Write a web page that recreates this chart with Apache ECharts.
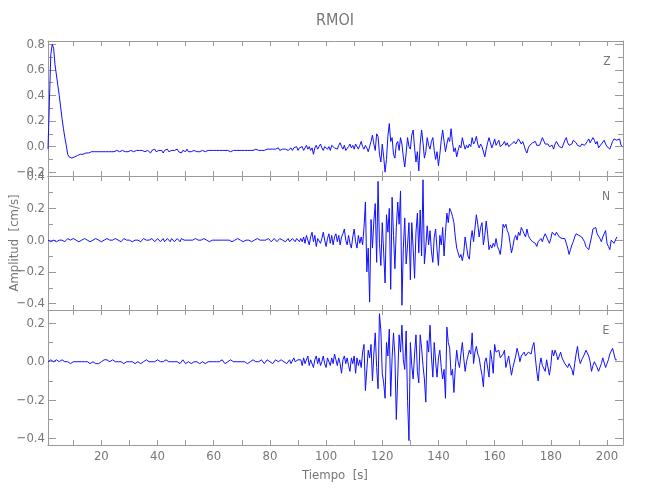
<!DOCTYPE html>
<html><head><meta charset="utf-8">
<script src="https://cdn.jsdelivr.net/npm/echarts@6/dist/echarts.min.js"></script>
<style>html,body{margin:0;padding:0;background:#fff}#c{width:650px;height:500px}</style>
</head><body><div id="c"></div>
<script>
// Sampling grid of the traces (seconds)
const T0 = 1, DT = 0.5;

// Amplitudes, in units of 0.01 cm/s
const Z_x100 = [
-2,35,72,80,77,64,56,48,40,31,22,14,7,1,-6,-8,-9,-9,-9,-8,
-8,-7,-7,-6,-6,-6,-5,-5,-5,-5,-5,-4,-4,-4,-4,-4,-4,-4,-4,-4,
-4,-4,-4,-4,-3,-4,-4,-4,-4,-3,-4,-4,-4,-3,-3,-4,-4,-4,-3,-3,
-3,-4,-4,-3,-3,-3,-4,-3,-3,-4,-4,-3,-4,-5,-3,-4,-2,-4,-5,-3,
-4,-3,-5,-3,-4,-2,-4,-5,-3,-4,-3,-4,-2,-4,-3,-5,-3,-3,-4,-2,
-4,-3,-4,-5,-3,-3,-4,-3,-4,-3,-3,-3,-4,-3,-3,-3,-3,-3,-3,-3,
-3,-3,-3,-4,-3,-3,-3,-3,-3,-3,-4,-3,-3,-3,-3,-3,-3,-4,-3,-3,
-3,-3,-3,-3,-3,-3,-3,-3,-2,-3,-3,-2,-3,-2,-3,-2,-2,-3,-2,-2,
-2,-3,-2,-2,-1,-3,-2,-2,-2,-2,-1,-3,-2,-1,-3,-1,-2,0,-3,-1,
-2,0,-3,-1,1,-2,0,-3,-1,-6,-1,1,-2,0,2,-1,-3,0,1,-2,
0,-3,1,2,-1,0,-2,1,3,0,-2,1,-3,-4,0,2,-1,1,-2,2,
0,-2,1,4,0,-2,1,-1,-4,-5,4,9,2,-3,10,8,-6,-12,2,-8,
-20,-10,8,18,4,7,-6,-9,2,4,-3,7,2,-8,-16,-5,7,0,-2,9,
13,-1,-12,-4,-19,2,13,3,-9,-4,7,1,-2,4,7,-3,-10,-4,-15,-6,
5,13,4,-4,2,7,4,14,3,-4,-1,-8,-3,1,-1,7,2,-2,1,-1,
2,0,7,2,4,8,2,-1,2,0,1,-8,-2,3,7,3,-1,2,6,1,
3,5,0,-1,2,4,1,3,0,-1,2,1,4,2,3,6,7,2,4,1,
-3,-5,-1,1,0,3,2,4,1,0,1,4,7,6,2,3,2,0,-1,1,
-2,2,4,3,0,1,-1,2,5,7,3,1,0,2,5,6,3,1,2,0,
2,3,1,2,4,6,3,5,7,5,2,4,-1,-2,2,3,5,2,0,-1,
-2,1,4,6,7,5,4,6,1,0
];
const N_x100 = [
0,0,-1,-1,0,0,-1,-1,0,1,0,0,-1,0,1,0,0,0,1,0,
0,-1,-1,0,0,1,1,0,0,0,-1,-1,0,1,1,0,0,-1,-1,0,
0,1,1,0,0,-1,0,0,1,0,0,0,-1,0,1,1,0,0,0,-1,
-1,0,0,1,0,0,-1,0,1,0,0,-1,0,0,1,0,-1,0,1,0,
-1,0,1,-1,0,1,0,-1,1,0,-1,0,1,0,-1,1,0,0,-1,0,
1,0,-1,0,0,1,0,0,-1,0,0,1,0,0,0,-1,0,0,1,0,
0,0,-1,0,0,0,1,0,0,0,-1,-1,0,0,1,1,0,0,0,-1,
0,0,1,0,0,-1,0,0,0,1,0,0,-1,0,1,0,0,1,0,-1,
0,1,0,-1,0,1,0,0,1,-1,0,1,-1,0,1,0,-1,1,0,-1,
1,-1,2,-2,3,0,-3,2,5,-1,3,-4,1,2,-2,1,5,0,-4,1,
4,-2,3,-3,2,4,-1,3,-3,2,4,7,0,-3,3,-2,-5,2,7,-1,
-5,3,-2,2,-3,8,24,-20,-5,-39,13,-5,12,23,-14,37,-2,-16,11,-8,
-27,16,5,20,-31,27,3,-18,8,24,10,31,-41,-5,14,-15,-3,11,-25,11,
-5,-24,5,17,-8,19,-10,38,-15,-4,9,-3,6,-7,-14,2,7,-6,-16,3,
-3,8,-10,5,17,11,20,18,15,11,2,-5,-8,-11,-9,-13,-8,2,-4,-10,
-12,0,6,-1,-2,16,10,2,8,11,-3,3,12,4,-6,-3,-5,-2,-4,1,
-4,-6,-9,-2,10,8,10,6,4,-2,-8,-4,1,3,0,5,3,8,6,4,
2,7,3,1,2,-1,0,-2,-4,-1,-2,1,-1,2,4,3,0,-2,1,5,
6,3,5,4,2,3,1,0,1,-2,-5,-9,-6,-3,-1,2,4,5,3,4,
2,1,-1,-4,-3,-6,-5,2,7,6,8,4,3,1,-1,2,4,6,-2,-4,
-6,0,1,-2,0,2
];
const E_x100 = [
0,0,1,1,0,1,1,1,0,1,1,0,0,1,0,0,-1,0,0,0,
0,-1,0,0,0,-1,0,0,0,0,-1,-1,0,0,-1,-1,-1,0,0,0,
1,0,1,1,0,0,1,0,0,-1,0,0,0,-1,-1,0,0,0,0,-1,
0,-1,-1,-1,0,0,-1,-1,0,0,1,0,0,-1,0,1,0,0,1,0,
0,1,0,-1,1,0,0,1,0,-1,0,1,0,0,-1,0,1,0,-1,0,
0,0,-1,0,0,1,0,0,-1,-1,0,0,-1,-1,0,0,0,-1,0,0,
0,1,0,0,1,0,-1,0,0,0,1,1,0,0,0,-1,0,0,0,1,
0,0,-1,0,0,1,1,0,0,-1,0,0,1,0,-1,0,1,1,0,0,
-1,0,1,0,0,-1,1,0,0,1,-1,0,1,-1,0,2,0,-1,1,0,
1,-2,2,-1,0,3,-2,1,2,-3,1,3,-1,2,-2,0,3,-1,-3,2,
1,-2,2,-1,4,1,-2,2,-1,-6,1,3,-1,2,-2,-5,2,-1,3,-6,
2,-2,1,-3,5,9,-15,-4,6,2,9,-10,4,15,-3,-14,25,16,-6,-11,
-19,10,3,17,-18,2,15,3,-30,-8,14,5,19,1,-4,16,-20,-41,10,-2,
-9,4,14,-5,-11,14,7,-2,-9,-21,11,5,19,3,-8,10,0,-8,2,6,
-3,-9,-4,-19,18,10,7,-7,-4,-16,-3,6,0,-3,4,10,2,-5,0,-1,
6,4,15,-1,5,8,4,2,-3,-7,-13,0,2,3,-8,6,1,-6,9,5,
4,6,2,1,4,6,-3,0,3,-2,-7,-3,-2,3,7,4,0,3,2,5,
3,2,5,6,4,8,10,2,-5,-10,-2,2,-2,-3,-5,1,2,-7,-2,6,
3,6,4,1,3,5,2,1,-1,-2,-3,-1,0,-4,-7,-1,4,8,2,-1,
1,2,4,6,7,3,0,-5,-2,0,-1,-3,-5,-6,-1,2,1,-3,-1,1,
4,5,7,4,1,1
];

const X_LABELS = [20,40,60,80,100,120,140,160,180,200];
const X_TICKS = [10,20,30,40,50,60,70,80,90,100,110,120,130,140,150,160,170,180,190,200];
const X_RANGE = [1, 205.7];

const PANEL_NAMES = ['Z','N','E'];
const PANEL_DATA = [Z_x100, N_x100, E_x100];
const Y_RANGES = [[-0.23, 0.826], [-0.44, 0.404], [-0.433, 0.269]];
const Y_MAJOR = [[-0.2,0,0.2,0.4,0.6,0.8],[-0.4,-0.2,0,0.2,0.4],[-0.4,-0.2,0,0.2]];
const Y_MINOR = [[-0.1,0.1,0.3,0.5,0.7],[-0.3,-0.1,0.1,0.3],[-0.3,-0.1,0.1]];

const FONT = "'Liberation Sans Narrow','DejaVu Sans Condensed','Roboto Condensed','Liberation Sans',sans-serif";
const AX = '#9a9a9a', TXT = '#777';
const GRIDS = [{left:48,right:27,top:41,height:135},{left:48,right:27,top:176,height:134},{left:48,right:27,top:310,height:135}];

const xAxis = [], yAxis = [], series = [];
const fmtY = v => (v < -1e-9 ? '\u2212' : '') + Math.abs(v).toFixed(1);
GRIDS.forEach((g, p) => {
  ['bottom','top'].forEach(pos => {
    xAxis.push({
      gridIndex: p, type: 'value', position: pos, min: X_RANGE[0], max: X_RANGE[1],
      axisLine: {show: true, onZero: false, lineStyle: {color: AX, width: 1}},
      axisTick: {show: true, inside: true, length: 5, customValues: X_TICKS, lineStyle: {color: AX}},
      axisLabel: {show: pos === 'bottom' && p === 2, customValues: X_LABELS, color: TXT,
        fontFamily: FONT, fontSize: 13, margin: 5, formatter: v => String(Math.round(v))},
      splitLine: {show: false}
    });
  });
  ['left','right'].forEach(pos => {
    [true, false].forEach(major => {
      yAxis.push({
        gridIndex: p, type: 'value', position: pos, min: Y_RANGES[p][0], max: Y_RANGES[p][1],
        axisLine: {show: major, onZero: false, lineStyle: {color: AX, width: 1}},
        axisTick: {show: true, inside: true, length: major ? 8 : 5,
          customValues: major ? Y_MAJOR[p] : Y_MINOR[p], lineStyle: {color: AX}},
        axisLabel: {show: major && pos === 'left', customValues: Y_MAJOR[p], color: TXT,
          fontFamily: FONT, fontSize: 13, margin: 3, formatter: fmtY},
        splitLine: {show: false}
      });
    });
  });
  series.push({
    type: 'line', xAxisIndex: p * 2, yAxisIndex: p * 4, showSymbol: false, symbol: 'none',
    sampling: 'none', smooth: false, clip: true,
    lineStyle: {color: '#1010ff', width: 1},
    data: PANEL_DATA[p].map((v, i) => [T0 + i * DT, v / 100])
  });
});

const txt = (text, x, y, size, extra) => Object.assign({type: 'text', x, y, silent: true,
  style: {text, font: size + 'px ' + FONT, fill: TXT, align: 'center', verticalAlign: 'middle'}}, extra || {});

const chart = echarts.init(document.getElementById('c'), null, {renderer: 'canvas'});
chart.setOption({
  animation: false,
  backgroundColor: '#fff',
  grid: GRIDS,
  xAxis, yAxis, series,
  graphic: [
    txt('RMOI', 335, 21, 16),
    txt(PANEL_NAMES[0], 607, 62, 12),
    txt(PANEL_NAMES[1], 606, 197, 12),
    txt(PANEL_NAMES[2], 606, 331, 12),
    txt('Tiempo  [s]', 335, 476, 13),
    txt('Amplitud  [cm/s]', 15, 243, 13, {rotation: Math.PI / 2})
  ]
});
</script></body></html>
